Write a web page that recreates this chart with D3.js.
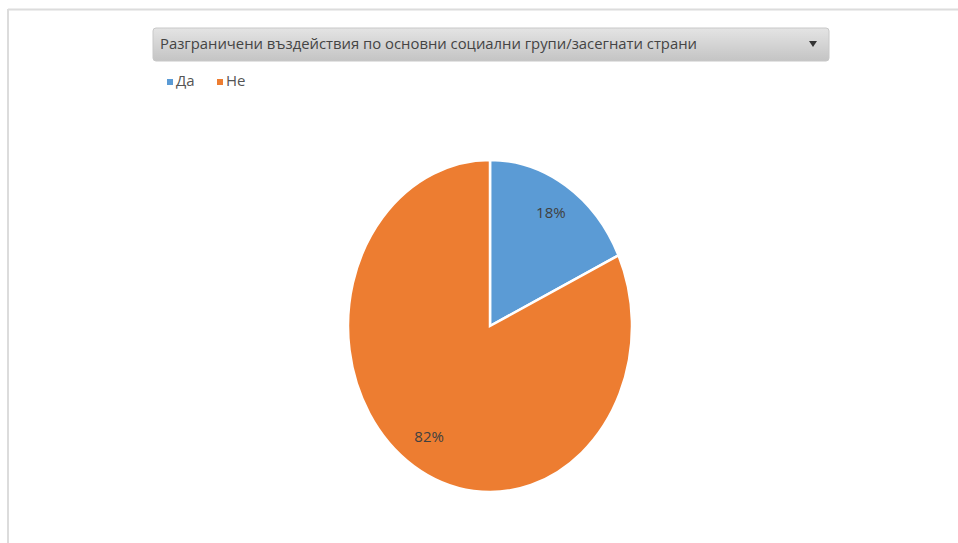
<!DOCTYPE html>
<html>
<head>
<meta charset="utf-8">
<script src="https://cdn.jsdelivr.net/npm/d3@7"></script>
<style>
  body { margin: 0; background: #fff; }
  svg { display: block; }
</style>
</head>
<body>
<div id="chart"></div>
<script>
// data
const categories = ["Да", "Не"];
const values = [18, 82];
const colors = ["#5b9bd5", "#ed7d31"];
const title = "Разграничени въздействия по основни социални групи/засегнати страни";

const W = 958, H = 543;
const font = "'Open Sans', 'Noto Sans', sans-serif";

const svg = d3.select("#chart").append("svg")
  .attr("width", W)
  .attr("height", H);

// frame (top + left edge of the chart area)
svg.append("line").attr("x1", 8).attr("x2", W).attr("y1", 9.5).attr("y2", 9.5)
  .attr("stroke", "#dcdcdc").attr("stroke-width", 2);
svg.append("line").attr("x1", 8).attr("x2", 8).attr("y1", 9).attr("y2", H)
  .attr("stroke", "#dcdcdc").attr("stroke-width", 2);

// dropdown-like filter bar
const grad = svg.append("defs").append("linearGradient")
  .attr("id", "dd").attr("x1", 0).attr("x2", 0).attr("y1", 0).attr("y2", 1);
grad.append("stop").attr("offset", "0%").attr("stop-color", "#e4e4e4");
grad.append("stop").attr("offset", "100%").attr("stop-color", "#c4c4c4");

svg.append("rect")
  .attr("x", 153).attr("y", 28)
  .attr("width", 676).attr("height", 33)
  .attr("rx", 3)
  .attr("fill", "url(#dd)")
  .attr("stroke", "#c8c8c8");

svg.append("text")
  .attr("x", 160).attr("y", 45)
  .attr("dominant-baseline", "middle")
  .attr("textLength", 537)
  .attr("lengthAdjust", "spacingAndGlyphs")
  .style("font-family", font)
  .style("font-size", "14px")
  .attr("fill", "#444")
  .text(title);

svg.append("path")
  .attr("d", "M809,41 L817,41 L813,47 Z")
  .attr("fill", "#333");

// legend
const legend = svg.append("g").attr("transform", "translate(167, 82)");
const legendX = d3.scaleOrdinal().domain(categories).range([0, 50]);
const li = legend.selectAll("g").data(categories).join("g")
  .attr("transform", d => `translate(${legendX(d)}, 0)`);
li.append("rect")
  .attr("x", 0).attr("y", -3)
  .attr("width", 6).attr("height", 6)
  .attr("fill", (d, i) => colors[i]);
li.append("text")
  .attr("x", 9).attr("y", 0)
  .attr("dominant-baseline", "middle")
  .style("font-family", font)
  .style("font-size", "15px")
  .attr("fill", "#555")
  .text(d => d);

// pie (slightly taller than wide, as in the picture)
const cx = 490, cy = 326, rx = 142, ry = 166;
const pie = d3.pie().sort(null).value(d => d);
const arcs = pie(values);
const arc = d3.arc().innerRadius(0).outerRadius(ry);
const labelArc = d3.arc().innerRadius(ry * 0.8).outerRadius(ry * 0.8);

const g = svg.append("g")
  .attr("transform", `translate(${cx}, ${cy}) scale(${rx / ry}, 1)`);

g.selectAll("path").data(arcs).join("path")
  .attr("d", arc)
  .attr("fill", (d, i) => colors[i])
  .attr("stroke", "#fff")
  .attr("stroke-width", 2.5)
  .attr("vector-effect", "non-scaling-stroke");

const total = d3.sum(values);
svg.append("g").selectAll("text").data(arcs).join("text")
  .attr("x", d => cx + labelArc.centroid(d)[0] * rx / ry)
  .attr("y", d => cy + labelArc.centroid(d)[1])
  .attr("text-anchor", "middle")
  .attr("dominant-baseline", "middle")
  .style("font-family", font)
  .style("font-size", "15px")
  .attr("fill", "#404040")
  .text(d => Math.round(d.data / total * 100) + "%");
</script>
</body>
</html>
